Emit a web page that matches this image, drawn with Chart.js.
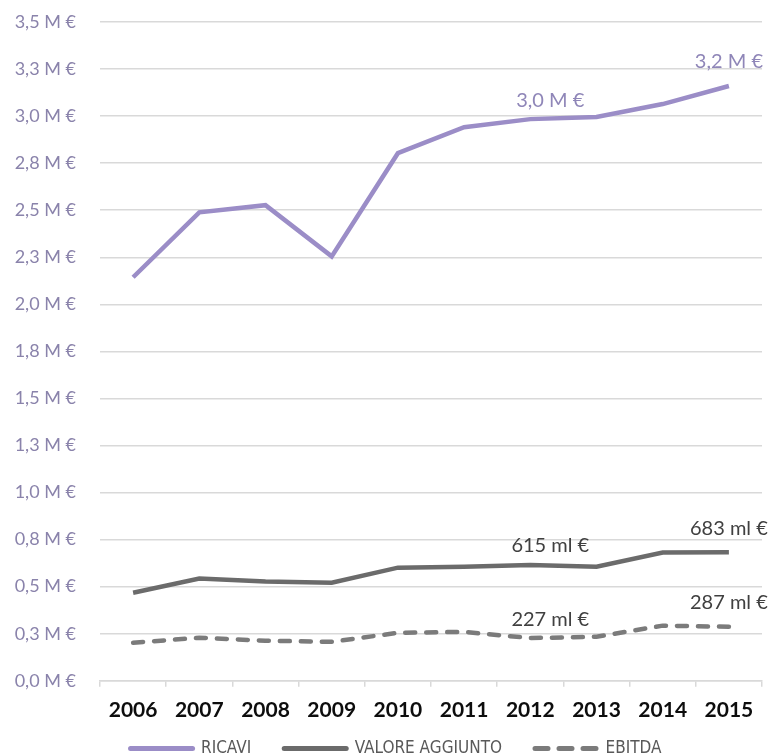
<!DOCTYPE html>
<html lang="it">
<head>
<meta charset="UTF-8">
<title>Ricavi, valore aggiunto, EBITDA</title>
<script src="https://cdn.jsdelivr.net/npm/chart.js"></script>
<style>
  html, body { margin: 0; padding: 0; background: #fff; }
  #wrap { width: 773px; height: 756px; }
</style>
</head>
<body>
<div id="wrap"><canvas id="chart1"></canvas></div>
<script>
// dati (milioni di euro)
var anni = ['2006', '2007', '2008', '2009', '2010', '2011', '2012', '2013', '2014', '2015'];
var ricavi = [2.144, 2.489, 2.527, 2.255, 2.803, 2.941, 2.984, 2.995, 3.064, 3.160];
var valoreAggiunto = [0.468, 0.543, 0.527, 0.521, 0.601, 0.606, 0.615, 0.606, 0.681, 0.683];
var ebitda = [0.202, 0.229, 0.213, 0.207, 0.255, 0.260, 0.227, 0.234, 0.293, 0.287];
var anniEtichettati = [6, 9];

function fmtMilioni(v) { return v.toFixed(1).replace('.', ',') + ' M €'; }
function fmtMigliaia(v) { return Math.round(v * 1000) + ' ml €'; }

// etichette dei valori sopra i punti
var etichette = {
    id: 'etichette',
    afterDatasetsDraw: function (chart) {
        var ctx = chart.ctx;
        var formati = [fmtMilioni, fmtMigliaia, fmtMigliaia];
        var colori = ['#8f86b8', '#404040', '#404040'];
        ctx.save();
        ctx.font = '20px Lato';
        ctx.textAlign = 'center';
        ctx.textBaseline = 'middle';
        chart.data.datasets.forEach(function (ds, d) {
            var meta = chart.getDatasetMeta(d);
            anniEtichettati.forEach(function (i) {
                var p = meta.data[i];
                var dx = i === 6 ? 20 : 0;
                var dy = i === 6 ? -19 : -24;
                ctx.fillStyle = colori[d];
                ctx.fillText(formati[d](ds.data[i]), p.x + dx, p.y + dy);
            });
        });
        ctx.restore();
    }
};

// la legenda si sovrappone un po' allo spazio delle etichette x
var legendaSu = {
    id: 'legendaSu',
    afterLayout: function (chart) {
        chart.legend.top -= 27;
        chart.legend.bottom -= 27;
        chart.legend.left += 15;
        chart.legend.right += 15;
    }
};

var ctx = document.getElementById('chart1').getContext('2d');
var chart = new Chart(ctx, {
    type: 'line',
    data: {
        labels: anni,
        datasets: [{
            label: 'RICAVI',
            data: ricavi,
            borderColor: '#9b8dc7',
            backgroundColor: '#9b8dc7',
            borderWidth: 4.5
        }, {
            label: 'VALORE AGGIUNTO',
            data: valoreAggiunto,
            borderColor: '#6b6b6b',
            backgroundColor: '#6b6b6b',
            borderWidth: 4.5
        }, {
            label: 'EBITDA',
            data: ebitda,
            borderColor: '#7b7b7b',
            backgroundColor: '#7b7b7b',
            borderWidth: 4.5,
            borderDash: [10, 11],
            borderCapStyle: 'round'
        }]
    },
    options: {
        responsive: true,
        maintainAspectRatio: false,
        animation: false,
        elements: { point: { radius: 0 }, line: { tension: 0 } },
        layout: { padding: { top: 22, right: 11, left: 0, bottom: -38 } },
        plugins: {
            tooltip: { enabled: false },
            legend: {
                position: 'bottom',
                labels: {
                    usePointStyle: true,
                    pointStyle: 'line',
                    pointStyleWidth: 62,
                    boxHeight: 14,
                    padding: 33,
                    color: '#595959',
                    font: { family: "'DejaVu Sans Condensed', Roboto, sans-serif", size: 17 },
                    generateLabels: function (chart) {
                        var items = Chart.defaults.plugins.legend.labels.generateLabels(chart);
                        items.forEach(function (it, i) {
                            it.lineWidth = 5;
                            it.lineCap = 'round';
                            it.lineDash = chart.data.datasets[i].borderDash ? [13, 11] : [];
                        });
                        return items;
                    }
                }
            }
        },
        scales: {
            x: {
                offset: true,
                grid: {
                    offset: true,
                    drawOnChartArea: false,
                    drawTicks: true,
                    tickLength: 6,
                    color: '#d9d9d9',
                    lineWidth: 1.5
                },
                border: { display: true, color: '#d9d9d9', width: 1.5 },
                ticks: {
                    color: '#0d0d0d',
                    padding: 11,
                    maxRotation: 0,
                    font: { family: 'Lato', size: 21, weight: 'bold' }
                }
            },
            y: {
                min: 0,
                max: 3.5,
                afterFit: function (scale) {
                    scale.width = 100;
                    scale.paddingTop = 0;
                    scale.paddingBottom = 0;
                },
                grid: { color: '#d9d9d9', lineWidth: 1.5, drawTicks: false },
                border: { display: false },
                ticks: {
                    stepSize: 0.25,
                    padding: 24,
                    color: '#8a83ab',
                    font: { family: 'Lato', size: 18 },
                    callback: function (v) { return fmtMilioni(v); }
                }
            }
        }
    },
    plugins: [etichette, legendaSu]
});
</script>
</body>
</html>
